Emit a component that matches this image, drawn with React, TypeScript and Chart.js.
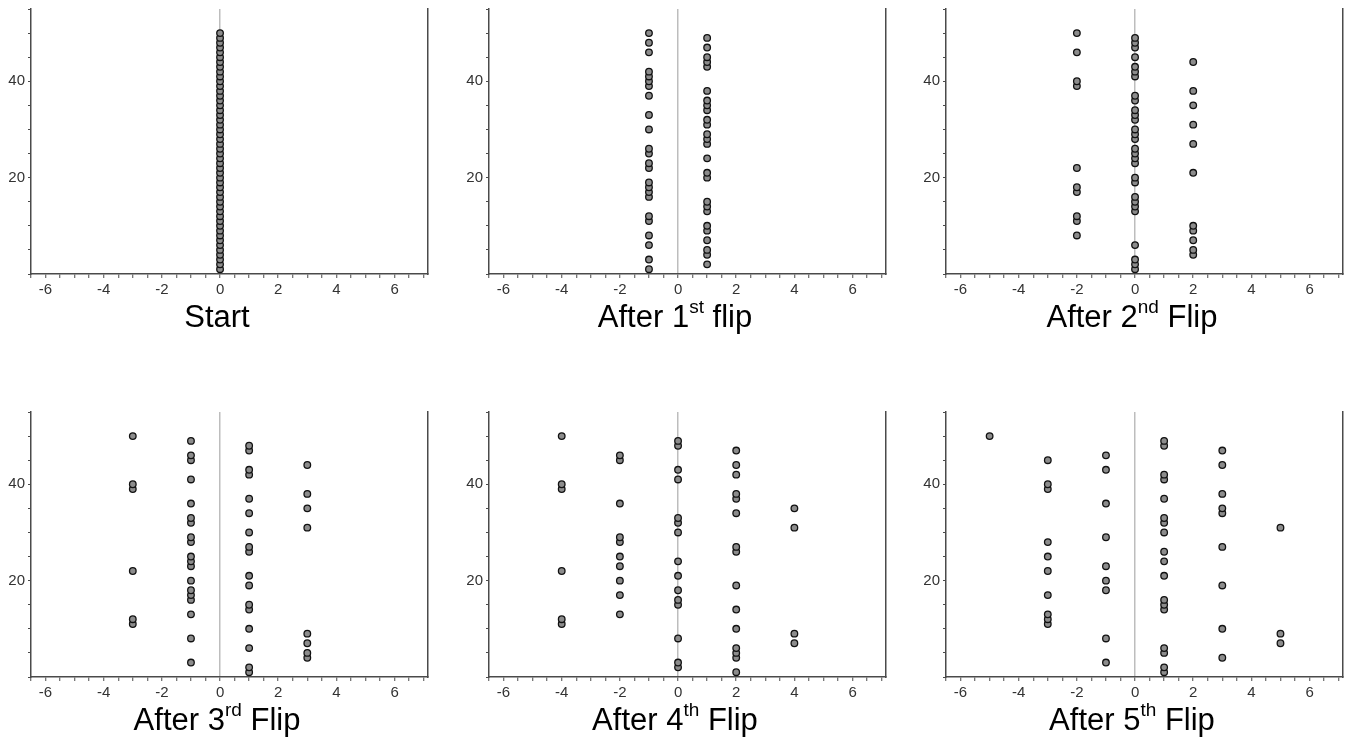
import React, { useEffect, useRef } from 'react';
import { Chart, registerables } from 'chart.js';

Chart.register(...registerables);

// Each particle keeps its row (y); its x position changes after every coin flip.
const particleRows = [
  1, 2, 3, 4, 5, 6, 7, 8, 9, 10,
  11, 12, 13, 14, 15, 16, 17, 18, 19, 20,
  21, 22, 23, 24, 25, 26, 27, 28, 29, 30,
  31, 32, 33, 34, 35, 36, 37, 38, 39, 40,
  41, 42, 43, 44, 45, 46, 47, 48, 49, 50,
];

const startPos = [
  0, 0, 0, 0, 0, 0, 0, 0, 0, 0,
  0, 0, 0, 0, 0, 0, 0, 0, 0, 0,
  0, 0, 0, 0, 0, 0, 0, 0, 0, 0,
  0, 0, 0, 0, 0, 0, 0, 0, 0, 0,
  0, 0, 0, 0, 0, 0, 0, 0, 0, 0,
];

const afterFlip1 = [
  -1, 1, -1, 1, 1, -1, 1, -1, 1, 1,
  -1, -1, 1, 1, 1, -1, -1, -1, -1, 1,
  1, -1, -1, 1, -1, -1, 1, 1, 1, -1,
  1, 1, -1, 1, 1, 1, -1, 1, -1, -1,
  -1, -1, 1, 1, 1, -1, 1, -1, 1, -1,
];

const afterFlip2 = [
  0, 0, 0, 2, 2, 0, 2, -2, 2, 2,
  -2, -2, 0, 0, 0, 0, -2, -2, 0, 0,
  2, -2, 0, 0, 0, 0, 2, 0, 0, 0,
  2, 0, 0, 0, 2, 0, 0, 2, -2, -2,
  0, 0, 0, 2, 0, -2, 0, 0, 0, -2,
];

const afterFlip3 = [
  1, 1, -1, 3, 3, 1, 3, -1, 3, 1,
  -3, -3, -1, 1, 1, -1, -1, -1, 1, -1,
  1, -3, -1, -1, -1, 1, 1, -1, -1, 1,
  3, -1, -1, 1, 3, -1, 1, 3, -3, -3,
  -1, 1, 1, 3, -1, -1, 1, 1, -1, -3,
];

const afterFlip4 = [
  2, 0, 0, 2, 2, 2, 4, 0, 4, 2,
  -4, -4, -2, 2, 0, 0, -2, 0, 2, -2,
  0, -4, -2, 0, -2, 2, 2, -2, -2, 0,
  4, 0, 0, 2, 4, -2, 2, 2, -4, -4,
  0, 2, 0, 2, -2, -2, 2, 0, 0, -4,
];

const afterFlip5 = [
  1, 1, -1, 3, 1, 1, 5, -1, 5, 3,
  -3, -3, -3, 1, 1, 1, -3, -1, 3, -1,
  1, -3, -1, 1, -3, 1, 3, -3, -1, 1,
  5, 1, 1, 3, 3, -1, 1, 3, -3, -3,
  1, 1, -1, 3, -3, -1, 3, 1, 1, -5,
];

const xTickLabels = [-6, -4, -2, 0, 2, 4, 6];
const yTickLabels = [20, 40];

const panelTitles = [
  { pre: 'Start', sup: '', post: '' },
  { pre: 'After 1', sup: 'st', post: ' flip' },
  { pre: 'After 2', sup: 'nd', post: ' Flip' },
  { pre: 'After 3', sup: 'rd', post: ' Flip' },
  { pre: 'After 4', sup: 'th', post: ' Flip' },
  { pre: 'After 5', sup: 'th', post: ' Flip' },
];
const panelPositions = [startPos, afterFlip1, afterFlip2, afterFlip3, afterFlip4, afterFlip5];

const COL_LEFT = [0, 458, 915];
const ROW_TOP = [0, 403];
const FONT = "'Liberation Sans', Arial, sans-serif";
const AXIS_COLOR = '#4a4a4a';

function Panel(props: { left: number; top: number; positions: number[]; pre: string; sup: string; post: string }) {
  const ref = useRef<HTMLCanvasElement | null>(null);
  useEffect(() => {
    if (!ref.current) return;
    const data = props.positions.map((x, i) => ({ x, y: particleRows[i] }));
    const chart = new Chart(ref.current, {
      type: 'scatter',
      data: {
        datasets: [
          {
            data,
            pointRadius: 3.3,
            pointHoverRadius: 3.3,
            pointBackgroundColor: '#8c8c8c',
            pointBorderColor: '#111',
            pointBorderWidth: 1.3,
          },
        ],
      },
      options: {
        responsive: false,
        animation: false,
        devicePixelRatio: 1,
        events: [],
        layout: { padding: { top: 9, right: 22, left: 0, bottom: 0 } },
        plugins: { legend: { display: false }, tooltip: { enabled: false }, title: { display: false } },
        scales: {
          x: {
            type: 'linear',
            position: 'bottom',
            min: -6.5,
            max: 7.15,
            ticks: {
              stepSize: 0.5,
              includeBounds: false,
              autoSkip: false,
              maxRotation: 0,
              color: '#333',
              padding: 3,
              font: { family: FONT, size: 15 },
              callback: (v: any) => (xTickLabels.includes(Number(v)) ? String(v) : ''),
            },
            grid: {
              drawOnChartArea: true,
              color: (c: any) => (c.tick && c.tick.value === 0 ? '#bdbdbd' : 'rgba(0,0,0,0)'),
              lineWidth: 1.5,
              tickColor: AXIS_COLOR,
              tickWidth: 1,
              tickLength: 4,
            },
            border: { display: true, color: AXIS_COLOR, width: 1.5 },
            afterFit: (s: any) => {
              s.height = 26;
              s.paddingLeft = 0;
              s.paddingRight = 0;
            },
          },
          y: {
            type: 'linear',
            position: 'left',
            min: 0,
            max: 55,
            ticks: {
              stepSize: 5,
              includeBounds: false,
              autoSkip: false,
              color: '#333',
              padding: 3,
              font: { family: FONT, size: 15 },
              callback: (v: any) => (yTickLabels.includes(Number(v)) ? String(v) : ''),
            },
            grid: {
              drawOnChartArea: false,
              tickColor: AXIS_COLOR,
              tickWidth: 1,
              tickLength: 3,
            },
            border: { display: true, color: AXIS_COLOR, width: 1.5 },
            afterFit: (s: any) => {
              s.width = 31;
              s.paddingTop = 0;
              s.paddingBottom = 0;
            },
          },
          y2: {
            type: 'linear',
            position: 'right',
            min: 0,
            max: 55,
            ticks: { display: false },
            grid: { display: false, drawTicks: false },
            border: { display: true, color: AXIS_COLOR, width: 1.5 },
            afterFit: (s: any) => {
              s.width = 0;
              s.paddingTop = 0;
              s.paddingBottom = 0;
            },
          },
        },
      },
    });
    return () => chart.destroy();
  }, []);

  return (
    <>
      <canvas
        ref={ref}
        width={450}
        height={300}
        style={{ position: 'absolute', left: props.left, top: props.top, width: 450, height: 300, display: 'block' }}
      />
      <div
        style={{
          position: 'absolute',
          left: props.left,
          top: props.top + 301,
          width: 434,
          textAlign: 'center',
          fontFamily: FONT,
          fontSize: 31,
          lineHeight: '31px',
          color: '#000',
          whiteSpace: 'nowrap',
        }}
      >
        {props.pre}
        {props.sup ? (
          <span style={{ fontSize: 19, position: 'relative', top: -14 }}>{props.sup}</span>
        ) : null}
        {props.post}
      </div>
    </>
  );
}

export default function App() {
  return (
    <div
      style={{
        position: 'fixed',
        left: 0,
        top: 0,
        width: 1348,
        height: 738,
        background: '#fff',
        overflow: 'hidden',
      }}
    >
      {panelPositions.map((pos, i) => (
        <Panel
          key={i}
          left={COL_LEFT[i % 3]}
          top={ROW_TOP[Math.floor(i / 3)]}
          positions={pos}
          pre={panelTitles[i].pre}
          sup={panelTitles[i].sup}
          post={panelTitles[i].post}
        />
      ))}
    </div>
  );
}
